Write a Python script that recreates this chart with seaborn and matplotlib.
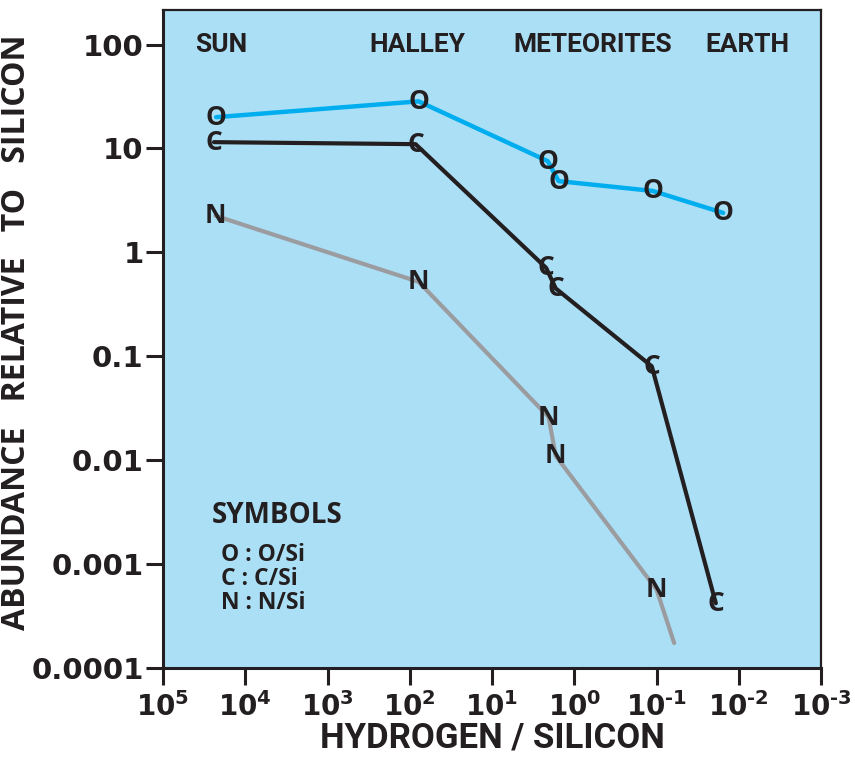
import matplotlib
matplotlib.use("Agg")
import matplotlib.pyplot as plt
import numpy as np
import pandas as pd
import seaborn as sns
from matplotlib import font_manager

# Source regions and the hydrogen/silicon ratio their labels sit over
sites = ["SUN", "HALLEY", "METEORITES", "EARTH"]
site_h_si = [1.95e4, 80, 0.6, 0.0079]

# Oxygen / silicon
o_h_si = [2.26e4, 78, 2.1, 1.55, 0.111, 0.0155]
o_si = [20, 28.4, 7.55, 4.85, 3.9, 2.4]
# Carbon / silicon
c_h_si = [2.4e4, 85, 2.2, 1.68, 0.114, 0.019]
c_si = [11.5, 11, 0.71, 0.45, 0.08, 4.2e-4]
# Nitrogen / silicon (last vertex is an unlabelled extension of the line)
n_h_si = [2.3e4, 78, 2.05, 1.68, 0.10, 0.061]
n_si = [2.25, 0.52, 0.026, 0.011, 5.7e-4, 1.74e-4]
n_labelled = [True, True, True, True, True, False]

x_ticks = [1e5, 1e4, 1e3, 1e2, 1e1, 1e0, 1e-1, 1e-2, 1e-3]
x_tick_labels = [r"$10^{5}$", r"$10^{4}$", r"$10^{3}$", r"$10^{2}$", r"$10^{1}$",
                 r"$10^{0}$", r"$10^{\text{-}1}$", r"$10^{\text{-}2}$", r"$10^{\text{-}3}$"]
y_ticks = [1e-4, 1e-3, 1e-2, 1e-1, 1, 10, 100]
y_tick_labels = ["0.0001", "0.001", "0.01", "0.1", "1", "10", "100"]

legend_title = "SYMBOLS"
legend_lines = ["O : O/Si", "C : C/Si", "N : N/Si"]

BG = "#abdff6"
INK = "#231f20"
O_COL = "#00aeef"
C_COL = "#231f20"
N_COL = "#9b9c9f"

sns.set_style("ticks", {"axes.facecolor": BG})

installed = {f.name for f in font_manager.fontManager.ttflist}
def pick(*names):
    for n in names:
        if n in installed:
            return [n, "DejaVu Sans"]
    return ["DejaVu Sans"]

narrow = pick("Roboto", "Liberation Sans")
wide = pick("Open Sans", "Noto Sans")
plt.rcParams["font.family"] = ["DejaVu Sans"]
plt.rcParams["mathtext.fontset"] = "custom"
plt.rcParams["mathtext.rm"] = "DejaVu Sans:bold"
plt.rcParams["mathtext.bf"] = "DejaVu Sans:bold"
plt.rcParams["mathtext.default"] = "rm"

fig = plt.figure(figsize=(8.55, 7.57), dpi=100)
ax = fig.add_axes([163 / 855, 89 / 757, (821 - 163) / 855, (747 - 89) / 757])

df_o = pd.DataFrame({"h": o_h_si, "v": o_si})
df_c = pd.DataFrame({"h": c_h_si, "v": c_si})
df_n = pd.DataFrame({"h": n_h_si, "v": n_si})

sns.lineplot(data=df_o, x="h", y="v", sort=False, color=O_COL, lw=3.2, ax=ax, zorder=2)
sns.lineplot(data=df_c, x="h", y="v", sort=False, color=C_COL, lw=3.0, ax=ax, zorder=2)
sns.lineplot(data=df_n, x="h", y="v", sort=False, color=N_COL, lw=3.0, ax=ax, zorder=2)

ax.set_xscale("log")
ax.set_yscale("log")
ax.set_xlim(1e5, 1e-3)
ax.set_ylim(1e-4, 215)

mk = dict(ha="center", va="center", fontsize=19, fontweight="bold", color=INK,
          family=wide, zorder=3)
for x, y in zip(o_h_si, o_si):
    ax.text(x, y, "O", **mk)
for x, y in zip(c_h_si, c_si):
    ax.text(x, y, "C", **mk)
for x, y, lab in zip(n_h_si, n_si, n_labelled):
    if lab:
        ax.text(x, y, "N", **mk)

for name, x in zip(sites, site_h_si):
    ax.text(x, 100, name, ha="center", va="center", fontsize=19,
            fontweight="bold", color=INK, family=narrow)

ax.text(0.173, 0.2325, legend_title, transform=ax.transAxes, ha="center",
        va="center", fontsize=20, fontweight="bold", color=INK, family=wide)
for i, line in enumerate(legend_lines):
    ax.text(0.088, 0.1717 - i * 0.0365, line, transform=ax.transAxes, ha="left",
            va="center", fontsize=16.5, fontweight="bold", color=INK, family=wide)

ax.set_xticks(x_ticks)
ax.set_xticklabels(x_tick_labels)
ax.set_yticks(y_ticks)
ax.set_yticklabels(y_tick_labels)
ax.minorticks_off()
ax.tick_params(axis="both", direction="out", width=2.2, color=INK, labelcolor=INK)
ax.tick_params(axis="x", length=12, pad=5, labelsize=20)
ax.tick_params(axis="y", length=12, pad=2, labelsize=21)
for lab in ax.get_yticklabels():
    lab.set_fontweight("bold")

for s in ax.spines.values():
    s.set_visible(True)
    s.set_color(INK)
    s.set_linewidth(1.6)
ax.spines["bottom"].set_linewidth(2.2)
ax.spines["left"].set_linewidth(2.2)

ax.set_xlabel("HYDROGEN / SILICON", fontsize=25, fontweight="bold", color=INK,
              family=narrow, labelpad=0)
ax.set_ylabel("ABUNDANCE   RELATIVE   TO   SILICON", fontsize=23, fontweight="bold",
              color=INK, family=wide)
ax.yaxis.set_label_coords(-0.197, 0.510)

fig.savefig("out.png", dpi=100, facecolor="white")
